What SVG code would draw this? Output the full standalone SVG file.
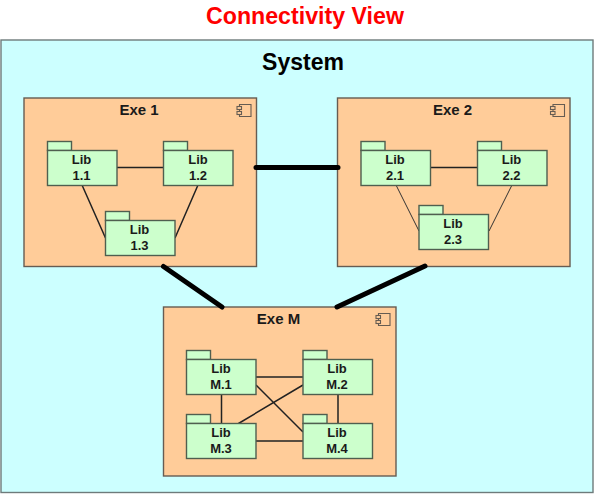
<svg xmlns="http://www.w3.org/2000/svg" width="594" height="494" viewBox="0 0 594 494">
<style>
text{font-family:"Liberation Sans",Arial,sans-serif;font-weight:bold;text-anchor:middle}
.title{font-size:23.2px;fill:#ff0000}
.sys{font-size:23px;fill:#000}
.exe{font-size:15px;fill:#1a1a1a}
.lib{font-size:13px;fill:#1a1a1a}
.sysbox{fill:#ccffff;stroke:#6e7b7b;stroke-width:1.4}
.exebox{fill:#ffcc99;stroke:#665c52;stroke-width:1.4}
.pkg{fill:#ccffcc;stroke:#4f5f4f;stroke-width:1.4}
.icon{fill:none;stroke:#665c52;stroke-width:1.1}
.thin{stroke:#222;stroke-width:1.5;fill:none}
.thin2{stroke:#333;stroke-width:1;fill:none}
.thick{stroke:#000;stroke-width:5;stroke-linecap:round;fill:none}
</style>
<defs>
<g id="package"><rect class="pkg" x="0" y="0" width="24" height="9"/><rect class="pkg" x="0" y="9" width="69.500" height="35"/></g>
<g id="component"><path class="icon" d="M2.500 0H14V12H2.500Z"/><rect x="0" y="2" width="4.500" height="3" fill="#ffcc99" stroke="#665c52" stroke-width="1.100"/><rect x="0" y="7" width="4.500" height="3" fill="#ffcc99" stroke="#665c52" stroke-width="1.100"/></g>
</defs>
<text class="title" x="305" y="24">Connectivity View</text>
<g id="system"><rect class="sysbox" x="1" y="40" width="592" height="452.500"/><text class="sys" x="303" y="70">System</text></g>
<g id="exe1"><rect class="exebox" x="24" y="98" width="232.500" height="168.500"/><text class="exe" x="139" y="115">Exe 1</text><use href="#component" x="237" y="104.500"/></g>
<g id="exe2"><rect class="exebox" x="337.500" y="98" width="232.500" height="168.500"/><text class="exe" x="452.500" y="115">Exe 2</text><use href="#component" x="550.500" y="104.500"/></g>
<g id="exeM"><rect class="exebox" x="163.500" y="307" width="232.500" height="169"/><text class="exe" x="278.500" y="324">Exe M</text><use href="#component" x="376" y="313.500"/></g>
<g id="connectors">
<path class="thin" d="M117 167.500H163.500M82 185L105.500 238M198 185L175 238M430.500 167.500H477M256 377H303M256 385L303 432M303 385L238.500 423.500M221.500 394V423M338 394V423M256 441H303"/>
<path class="thin2" d="M396 185L419 231M512 185L489 231"/>
<path class="thick" d="M256 167.500H338M163.500 266.500L222 307M425 266L337 307"/>
</g>
<g id="lib11"><use href="#package" x="47.500" y="141.500"/><text class="lib" x="81.500" y="164">Lib</text><text class="lib" x="81.500" y="180">1.1</text></g>
<g id="lib12"><use href="#package" x="163.500" y="141.500"/><text class="lib" x="198" y="164">Lib</text><text class="lib" x="198" y="180">1.2</text></g>
<g id="lib13"><use href="#package" x="105.500" y="211.500"/><text class="lib" x="139.500" y="234">Lib</text><text class="lib" x="139.500" y="250">1.3</text></g>
<g id="lib21"><use href="#package" x="361" y="141.500"/><text class="lib" x="395" y="164">Lib</text><text class="lib" x="395" y="180">2.1</text></g>
<g id="lib22"><use href="#package" x="477.500" y="141.500"/><text class="lib" x="511.500" y="164">Lib</text><text class="lib" x="511.500" y="180">2.2</text></g>
<g id="lib23"><use href="#package" x="419" y="205.500"/><text class="lib" x="453" y="228">Lib</text><text class="lib" x="453" y="244">2.3</text></g>
<g id="libM1"><use href="#package" x="186.500" y="350.500"/><text class="lib" x="221" y="373">Lib</text><text class="lib" x="221" y="389">M.1</text></g>
<g id="libM2"><use href="#package" x="303" y="350.500"/><text class="lib" x="337" y="373">Lib</text><text class="lib" x="337" y="389">M.2</text></g>
<g id="libM3"><use href="#package" x="186.500" y="414.500"/><text class="lib" x="221" y="437">Lib</text><text class="lib" x="221" y="453">M.3</text></g>
<g id="libM4"><use href="#package" x="303" y="414.500"/><text class="lib" x="337" y="437">Lib</text><text class="lib" x="337" y="453">M.4</text></g>
</svg>
